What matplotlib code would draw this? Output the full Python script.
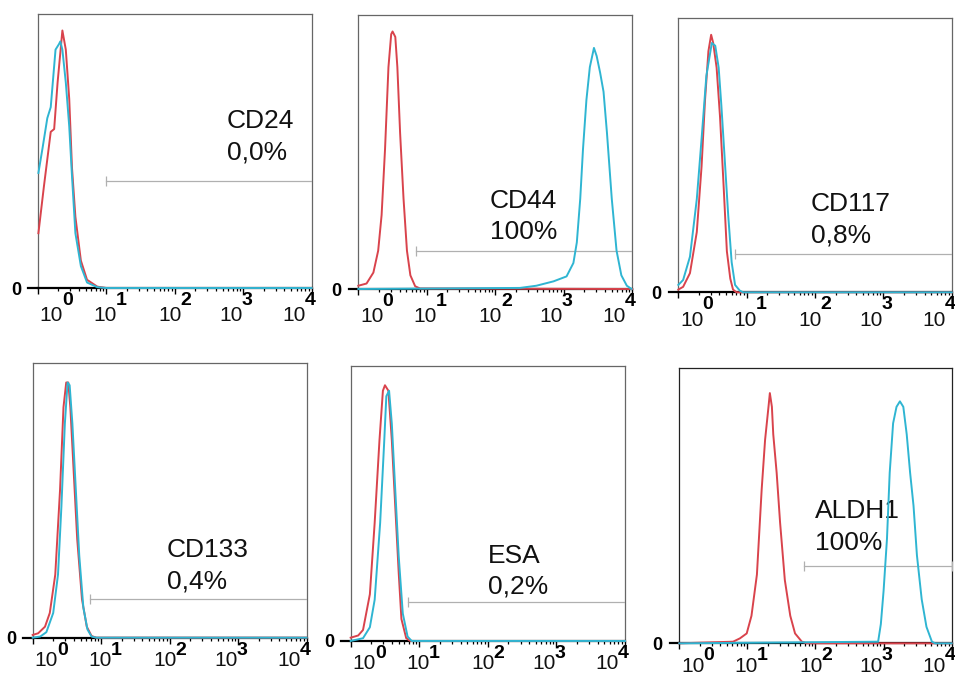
import numpy as np
import matplotlib
matplotlib.use("Agg")
from matplotlib import pyplot as plt

plt.rcParams['font.family'] = ['Liberation Sans', 'DejaVu Sans']

# marker names and % positive
markers = ["CD24", "CD44", "CD117", "CD133", "ESA", "ALDH1"]
percents = ["0,0%", "100%", "0,8%", "0,4%", "0,2%", "100%"]

# histogram curves: x in log10(fluorescence), y = relative count
# red = isotype control, cyan = marker
red_x = [
    [0.01, 0.09, 0.19, 0.24, 0.29, 0.36, 0.41, 0.46, 0.50, 0.55, 0.63, 0.72, 0.87, 1.0, 4.0],
    [0.0, 0.12, 0.22, 0.29, 0.34, 0.39, 0.44, 0.48, 0.50, 0.54, 0.57, 0.61, 0.66, 0.71, 0.76, 0.83, 0.90, 4.0],
    [0.0, 0.07, 0.17, 0.27, 0.34, 0.39, 0.44, 0.48, 0.51, 0.56, 0.61, 0.66, 0.71, 0.76, 0.80, 0.85, 4.0],
    [0.0, 0.08, 0.18, 0.25, 0.33, 0.40, 0.45, 0.49, 0.52, 0.55, 0.60, 0.65, 0.72, 0.79, 0.86, 0.93, 4.0],
    [0.0, 0.11, 0.18, 0.28, 0.35, 0.42, 0.47, 0.50, 0.55, 0.60, 0.65, 0.70, 0.74, 0.81, 0.87, 4.0],
    [0.0, 0.79, 0.89, 0.99, 1.06, 1.14, 1.21, 1.26, 1.31, 1.33, 1.36, 1.38, 1.43, 1.48, 1.55, 1.63, 1.70, 1.80, 1.87, 4.0],
]
red_y = [
    [0.20, 0.37, 0.57, 0.58, 0.75, 0.94, 0.87, 0.69, 0.44, 0.26, 0.10, 0.03, 0.005, 0.0, 0.0],
    [0.012, 0.02, 0.06, 0.14, 0.27, 0.51, 0.81, 0.93, 0.94, 0.92, 0.81, 0.57, 0.33, 0.14, 0.05, 0.01, 0.002, 0.0],
    [0.01, 0.02, 0.07, 0.22, 0.46, 0.70, 0.88, 0.94, 0.91, 0.82, 0.64, 0.40, 0.15, 0.05, 0.01, 0.0, 0.0],
    [0.01, 0.016, 0.04, 0.09, 0.23, 0.54, 0.84, 0.93, 0.93, 0.84, 0.60, 0.36, 0.14, 0.04, 0.006, 0.0, 0.0],
    [0.012, 0.02, 0.04, 0.17, 0.43, 0.73, 0.91, 0.93, 0.91, 0.73, 0.49, 0.25, 0.08, 0.01, 0.0, 0.0],
    [0.0, 0.006, 0.018, 0.036, 0.10, 0.25, 0.56, 0.74, 0.86, 0.91, 0.86, 0.76, 0.62, 0.44, 0.23, 0.10, 0.036, 0.006, 0.0, 0.0],
]
cyan_x = [
    [0.01, 0.07, 0.14, 0.19, 0.26, 0.31, 0.33, 0.36, 0.41, 0.46, 0.50, 0.55, 0.63, 0.72, 0.87, 1.0, 4.0],
    [0.0, 2.36, 2.60, 2.85, 3.04, 3.14, 3.19, 3.24, 3.28, 3.33, 3.38, 3.44, 3.48, 3.53, 3.58, 3.63, 3.70, 3.77, 3.84, 3.92, 3.99],
    [0.0, 0.07, 0.17, 0.27, 0.34, 0.41, 0.49, 0.54, 0.59, 0.63, 0.68, 0.73, 0.78, 0.83, 0.90, 0.95, 4.0],
    [0.0, 0.11, 0.20, 0.30, 0.37, 0.42, 0.47, 0.51, 0.54, 0.58, 0.63, 0.68, 0.74, 0.80, 0.86, 0.93, 4.0],
    [0.0, 0.18, 0.28, 0.35, 0.43, 0.49, 0.52, 0.56, 0.60, 0.65, 0.70, 0.76, 0.83, 0.89, 4.0],
    [0.0, 2.92, 2.96, 3.00, 3.05, 3.09, 3.14, 3.19, 3.24, 3.29, 3.34, 3.39, 3.44, 3.49, 3.56, 3.63, 3.71, 3.76, 4.0],
]
cyan_y = [
    [0.42, 0.51, 0.62, 0.66, 0.87, 0.89, 0.90, 0.87, 0.75, 0.59, 0.41, 0.20, 0.08, 0.02, 0.003, 0.0, 0.0],
    [0.0, 0.004, 0.012, 0.028, 0.046, 0.095, 0.17, 0.33, 0.51, 0.69, 0.81, 0.88, 0.85, 0.79, 0.72, 0.57, 0.33, 0.14, 0.05, 0.012, 0.0],
    [0.027, 0.045, 0.13, 0.34, 0.56, 0.79, 0.91, 0.90, 0.82, 0.68, 0.48, 0.28, 0.11, 0.027, 0.006, 0.0, 0.0],
    [0.0, 0.004, 0.02, 0.09, 0.23, 0.48, 0.78, 0.93, 0.92, 0.78, 0.54, 0.30, 0.11, 0.03, 0.004, 0.0, 0.0],
    [0.0, 0.01, 0.05, 0.15, 0.43, 0.73, 0.89, 0.91, 0.79, 0.55, 0.31, 0.10, 0.016, 0.0, 0.0],
    [0.0, 0.006, 0.07, 0.19, 0.38, 0.62, 0.80, 0.86, 0.88, 0.86, 0.76, 0.62, 0.50, 0.32, 0.16, 0.06, 0.006, 0.0, 0.0],
]

# marker gate: start (log10) and height
gate_start = [0.99, 0.84, 0.83, 0.83, 0.84, 1.83]
gate_level = [0.39, 0.14, 0.14, 0.14, 0.14, 0.28]

decades = [0, 1, 2, 3, 4]

# layout (figure fractions) and label positions (axes fractions)
axes_pos = [
    [0.0395, 0.5727, 0.2869, 0.4065],
    [0.3752, 0.5712, 0.2869, 0.4065],
    [0.7103, 0.5663, 0.2863, 0.4065],
    [0.0342, 0.0539, 0.2869, 0.4071],
    [0.3672, 0.0490, 0.2872, 0.4080],
    [0.7113, 0.0455, 0.2852, 0.4080],
]
label_xy = [
    (0.691, 0.583, 0.469),
    (0.481, 0.295, 0.182),
    (0.484, 0.297, 0.180),
    (0.489, 0.295, 0.181),
    (0.502, 0.283, 0.173),
    (0.498, 0.455, 0.339),
]
# where the "10" of each decade label sits (log10 units)
tick_label_pos = [0.20, 0.98, 1.93, 2.82, 3.74]

RED = "#d9434c"
CYAN = "#2fb5d2"

fig = plt.figure(figsize=(9.55, 6.74), dpi=100)

for i in range(6):
    ax = fig.add_axes(axes_pos[i])
    ax.set_xscale("log")
    ax.set_xlim(1, 1e4)
    ax.set_ylim(0, 1)

    ax.plot(10 ** np.array(red_x[i]), red_y[i], color=RED, lw=1.4, zorder=4, clip_on=False)
    ax.plot(10 ** np.array(cyan_x[i]), cyan_y[i], color=CYAN, lw=1.4, zorder=5, clip_on=False)

    # gate bar
    gx = [10 ** gate_start[i], 1e4]
    ax.plot(gx, [gate_level[i]] * 2, color="#b0b0b0", lw=0.9, zorder=3)
    ends = [gx[0]] if i < 5 else gx
    ax.plot(ends, [gate_level[i]] * len(ends), ls="none", marker="|",
            ms=7, mew=0.9, color="#b0b0b0", zorder=3)

    ax.text(label_xy[i][0], label_xy[i][1], markers[i], transform=ax.transAxes,
            fontsize=19, va="baseline", ha="left", color="#111111")
    ax.text(label_xy[i][0], label_xy[i][2], percents[i], transform=ax.transAxes,
            fontsize=19, va="baseline", ha="left", color="#111111")

    # frame
    frame_col = "#222222" if i == 5 else "#666666"
    for s in ["left", "top", "right"]:
        ax.spines[s].set_color(frame_col)
        ax.spines[s].set_linewidth(0.9)
    ax.spines["bottom"].set_color("black")
    ax.spines["bottom"].set_linewidth(1.6)
    ax.plot([-0.035, 0], [0, 0], transform=ax.transAxes, color="black",
            lw=1.6, clip_on=False)

    ax.set_yticks([0])
    ax.set_yticklabels(["0"], fontweight="bold")
    ax.tick_params(axis="y", length=0, pad=12, labelsize=13)
    ax.tick_params(axis="x", which="major", direction="out", length=4.5, width=1,
                   labelbottom=False)
    ax.tick_params(axis="x", which="minor", direction="out", length=2.5, width=0.9,
                   labelbottom=False)

    base_off = -20 if i < 3 else -16.5
    for d, pos in zip(decades, tick_label_pos):
        ax.annotate("10", xy=(10 ** pos, 0), xycoords=("data", "axes fraction"),
                    xytext=(0, base_off), textcoords="offset points",
                    ha="center", va="center", fontsize=15, color="#111111",
                    annotation_clip=False)
        ax.annotate(str(d), xy=(10 ** pos, 0), xycoords=("data", "axes fraction"),
                    xytext=(11.5, -9), textcoords="offset points",
                    ha="center", va="center", fontsize=14, fontweight="bold",
                    annotation_clip=False)

fig.savefig("out.png", dpi=100, facecolor="white")
